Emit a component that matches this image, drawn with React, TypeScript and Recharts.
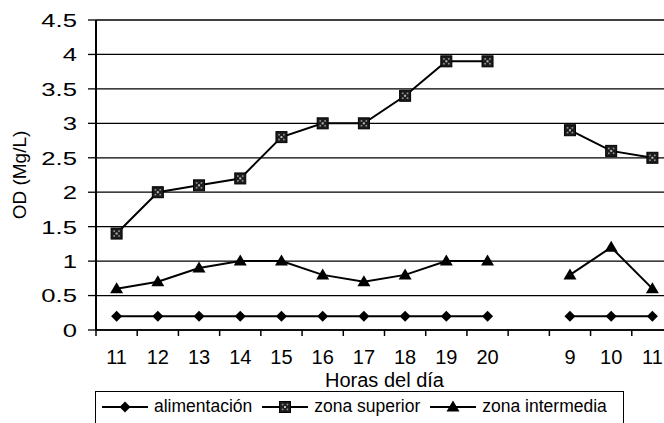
import React from 'react';
import { LineChart, Line, XAxis, YAxis, CartesianGrid } from 'recharts';

const hours = ['11', '12', '13', '14', '15', '16', '17', '18', '19', '20', '', '9', '10', '11'];
const alimentacion = [0.2, 0.2, 0.2, 0.2, 0.2, 0.2, 0.2, 0.2, 0.2, 0.2, null, 0.2, 0.2, 0.2];
const zonaSuperior = [1.4, 2.0, 2.1, 2.2, 2.8, 3.0, 3.0, 3.4, 3.9, 3.9, null, 2.9, 2.6, 2.5];
const zonaIntermedia = [0.6, 0.7, 0.9, 1.0, 1.0, 0.8, 0.7, 0.8, 1.0, 1.0, null, 0.8, 1.2, 0.6];
const yTicks = [0, 0.5, 1, 1.5, 2, 2.5, 3, 3.5, 4, 4.5];
const seriesNames = ['alimentación', 'zona superior', 'zona intermedia'];

const data = hours.map((h, i) => ({
  x: i + 1,
  label: h,
  a: alimentacion[i],
  s: zonaSuperior[i],
  m: zonaIntermedia[i],
}));

const xTicks: number[] = [0.5];
hours.forEach((_, i) => {
  xTicks.push(i + 1, i + 1.5);
});

const FONT = '"Liberation Sans", Arial, Helvetica, sans-serif';

const diamondShape = (cx: number, cy: number) => (
  <path d={`M${cx},${cy - 5.5} L${cx + 5.5},${cy} L${cx},${cy + 5.5} L${cx - 5.5},${cy} Z`} fill="#000" />
);
const squareShape = (cx: number, cy: number) => (
  <g>
    <rect x={cx - 5.5} y={cy - 5.5} width={11} height={11} fill="#1c1c1c" stroke="#000" strokeWidth={1} />
    <rect x={cx - 1} y={cy - 1} width={2} height={2} fill="#bbb" />
    <rect x={cx - 3.2} y={cy - 3.2} width={1.6} height={1.6} fill="#999" />
    <rect x={cx + 1.6} y={cy - 3.2} width={1.6} height={1.6} fill="#999" />
    <rect x={cx - 3.2} y={cy + 1.6} width={1.6} height={1.6} fill="#999" />
    <rect x={cx + 1.6} y={cy + 1.6} width={1.6} height={1.6} fill="#999" />
  </g>
);
const triangleShape = (cx: number, cy: number) => (
  <path d={`M${cx},${cy - 6.5} L${cx + 6.5},${cy + 4.5} L${cx - 6.5},${cy + 4.5} Z`} fill="#000" />
);

const makeDot = (shape: (cx: number, cy: number) => React.ReactElement, prefix: string) => (props: any) => {
  const { cx, cy, index, value } = props;
  if (cx == null || cy == null || value == null || Number.isNaN(cy)) return <g key={`${prefix}-${index}`} />;
  return <g key={`${prefix}-${index}`}>{shape(cx, cy)}</g>;
};

const XTick = (props: any) => {
  const { x, y, payload } = props;
  const v = payload.value as number;
  if (Math.abs(v - Math.round(v)) > 0.01) {
    return <line x1={x} y1={y} x2={x} y2={y + 6} stroke="#000" strokeWidth={1.5} />;
  }
  const label = hours[Math.round(v) - 1] ?? '';
  return (
    <text x={x} y={y + 34} textAnchor="middle" fontSize={20} fill="#000" fontFamily={FONT}>
      {label}
    </text>
  );
};

const YTick = (props: any) => {
  const { x, y, payload } = props;
  return (
    <g transform={`translate(${x},${y}) scale(1.35,1)`}>
      <text x={0} y={0} dy="0.36em" textAnchor="end" fontSize={19} fill="#000" fontFamily={FONT}>
        {String(payload.value)}
      </text>
    </g>
  );
};

const legendShapes = [diamondShape, squareShape, triangleShape];

const LegendBox = () => (
  <div
    style={{
      position: 'absolute',
      left: 95,
      top: 391,
      width: 529,
      height: 40,
      border: '1.5px solid #000',
      boxSizing: 'border-box',
      display: 'flex',
      alignItems: 'flex-start',
      paddingLeft: 6,
      paddingTop: 3,
      fontFamily: FONT,
      fontSize: 17.5,
      color: '#000',
    }}
  >
    {seriesNames.map((name, i) => (
      <div key={name} style={{ display: 'flex', alignItems: 'center', marginRight: 10, height: 22 }}>
        <svg width={46} height={22} style={{ display: 'block' }}>
          <line x1={0} y1={12} x2={46} y2={12} stroke="#000" strokeWidth={2} />
          {legendShapes[i](23, 12)}
        </svg>
        <span style={{ marginLeft: 6, lineHeight: '22px' }}>{name}</span>
      </div>
    ))}
  </div>
);

export default function App() {
  return (
    <div
      style={{
        position: 'fixed',
        left: 0,
        top: 0,
        width: 664,
        height: 423,
        overflow: 'hidden',
        background: '#fff',
      }}
    >
      <LineChart
        width={680}
        height={423}
        data={data}
        margin={{ top: 20, right: 7, bottom: 0, left: 0 }}
        style={{ fontFamily: FONT }}
      >
        <CartesianGrid horizontal vertical={false} stroke="#000" strokeWidth={1.3} />
        <XAxis
          dataKey="x"
          type="number"
          domain={[0.5, 14.5]}
          ticks={xTicks}
          interval={0}
          height={93}
          tickLine={false}
          tickSize={0}
          tickMargin={0}
          tick={<XTick />}
          axisLine={{ stroke: '#000', strokeWidth: 1.5 }}
          allowDataOverflow
          label={{ value: 'Horas del día', position: 'insideTop', offset: 43, fontSize: 20, fill: '#000' }}
        />
        <YAxis
          type="number"
          domain={[0, 4.5]}
          ticks={yTicks}
          interval={0}
          width={96}
          tickSize={8}
          tickMargin={11}
          tickLine={{ stroke: '#000', strokeWidth: 1.3 }}
          axisLine={{ stroke: '#000', strokeWidth: 2 }}
          tick={<YTick />}
          allowDataOverflow
          label={{
            value: 'OD (Mg/L)',
            angle: -90,
            position: 'insideLeft',
            offset: 19,
            fontSize: 19,
            fill: '#000',
            style: { textAnchor: 'middle' },
          }}
        />
        <Line
          dataKey="a"
          name={seriesNames[0]}
          stroke="#000"
          strokeWidth={2}
          dot={makeDot(diamondShape, 'a')}
          activeDot={false}
          connectNulls={false}
          isAnimationActive={false}
        />
        <Line
          dataKey="s"
          name={seriesNames[1]}
          stroke="#000"
          strokeWidth={2}
          dot={makeDot(squareShape, 's')}
          activeDot={false}
          connectNulls={false}
          isAnimationActive={false}
        />
        <Line
          dataKey="m"
          name={seriesNames[2]}
          stroke="#000"
          strokeWidth={2}
          dot={makeDot(triangleShape, 'm')}
          activeDot={false}
          connectNulls={false}
          isAnimationActive={false}
        />
      </LineChart>
      <LegendBox />
    </div>
  );
}
